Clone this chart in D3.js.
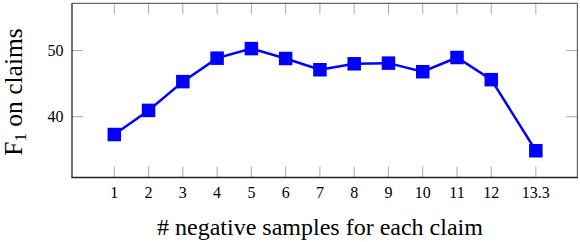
<!DOCTYPE html>
<html><head><meta charset="utf-8">
<script src="https://cdn.jsdelivr.net/npm/d3@7"></script>
<style>body{margin:0;background:#fff}svg{display:block}text{font-family:"Liberation Serif","DejaVu Serif",serif;fill:#000}</style>
</head><body>
<svg id="c" width="580" height="242"></svg>
<script>
const xValues = [1,2,3,4,5,6,7,8,9,10,11,12,13.3];
const f1Values = [37.3,40.95,45.3,48.85,50.3,48.8,47.1,48.0,48.1,46.8,48.95,45.6,34.85];
const xTickLabels = ["1","2","3","4","5","6","7","8","9","10","11","12","13.3"];
const yTicks = [40,50];

const svg = d3.select("#c");
const L=72, R=577.3, T=3.3, B=177.5;
const x = d3.scaleLinear().domain([-0.234,14.51]).range([L,R]);
const y = d3.scaleLinear().domain([30.8,57.15]).range([B,T]);

const tg = svg.append("g").attr("stroke","#aaa").attr("stroke-width",1);
xValues.forEach(v=>{
  tg.append("line").attr("x1",x(v)).attr("x2",x(v)).attr("y1",B).attr("y2",B-11);
  tg.append("line").attr("x1",x(v)).attr("x2",x(v)).attr("y1",T).attr("y2",T+11);
});
yTicks.forEach(v=>{
  tg.append("line").attr("x1",L).attr("x2",L+11).attr("y1",y(v)).attr("y2",y(v));
  tg.append("line").attr("x1",R).attr("x2",R-11).attr("y1",y(v)).attr("y2",y(v));
});

svg.append("line").attr("x1",L).attr("x2",R).attr("y1",T).attr("y2",T).attr("stroke","#444").attr("stroke-width",1);
svg.append("line").attr("x1",R).attr("x2",R).attr("y1",T).attr("y2",B).attr("stroke","#444").attr("stroke-width",1);
svg.append("line").attr("x1",L).attr("x2",L).attr("y1",T).attr("y2",B).attr("stroke","#222").attr("stroke-width",1.3);
svg.append("line").attr("x1",L-0.6).attr("x2",R+0.5).attr("y1",B).attr("y2",B).attr("stroke","#222").attr("stroke-width",1.3);

xValues.forEach((v,i)=>{
  svg.append("text").attr("x",x(v)).attr("y",198).attr("text-anchor","middle").attr("font-size",16).text(xTickLabels[i]);
});
yTicks.forEach(v=>{
  svg.append("text").attr("x",63.5).attr("y",y(v)+5.5).attr("text-anchor","end").attr("font-size",16).attr("fill","#222").text(v);
});

const pts = xValues.map((v,i)=>[v,f1Values[i]]);
svg.append("path").datum(pts).attr("fill","none").attr("stroke","#0000ff").attr("stroke-width",2.5)
  .attr("d",d3.line().x(d=>x(d[0])).y(d=>y(d[1])));
const s=13.5;
svg.selectAll("rect.m").data(pts).join("rect").attr("class","m")
  .attr("x",d=>x(d[0])-s/2).attr("y",d=>y(d[1])-s/2).attr("width",s).attr("height",s).attr("fill","#0000ff");

svg.append("text").attr("x",320).attr("y",234.5).attr("text-anchor","middle").attr("font-size",24).text("# negative samples for each claim");
const yl = svg.append("text").attr("transform",`translate(21.5,92) rotate(-90)`).attr("text-anchor","middle").attr("font-size",25.5);
yl.append("tspan").text("F");
yl.append("tspan").attr("font-size",17).attr("dy",4).text("1");
yl.append("tspan").attr("dy",-4).text(" on claims");
</script>
</body></html>
